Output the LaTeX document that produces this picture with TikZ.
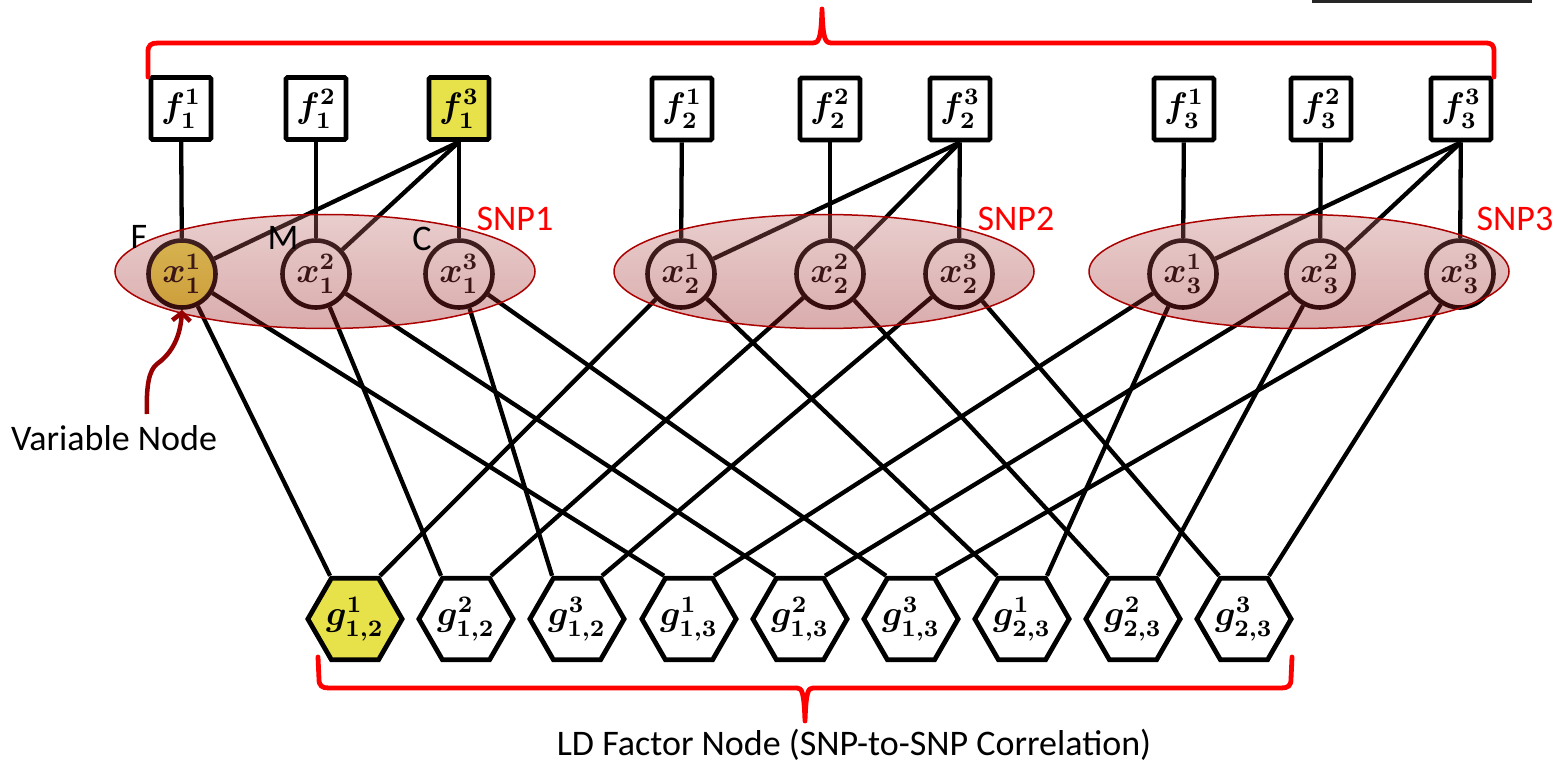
\documentclass[tikz,border=0pt]{standalone}
\usepackage{amsmath}
\usepackage{graphicx}
\usepackage[no-math]{fontspec}
\newfontfamily\labelfont{Carlito}
\usetikzlibrary{shapes.geometric,arrows.meta}
\pgfdeclarelayer{edges}
\pgfdeclarelayer{groups}
\pgfdeclarelayer{labels}
\pgfsetlayers{edges,main,groups,labels}

\definecolor{hilite}{RGB}{232,226,74}
\definecolor{bracered}{RGB}{255,0,0}
\definecolor{ellborder}{RGB}{170,0,0}
\definecolor{elltop}{RGB}{192,112,112}
\definecolor{ellbottom}{RGB}{149,18,18}
\definecolor{pointred}{RGB}{150,0,0}

% bold math symbol with stacked indices, enlarged
\newcommand{\sym}[3]{\scalebox{2.95}{\fontsize{12}{14}\selectfont$\boldsymbol{#1^{#2}_{#3}}$}}

\begin{document}
\begin{tikzpicture}[x=1pt,y=-1pt,
  fbox/.style={draw, line width=4.8pt, fill=white, minimum width=60pt,
    minimum height=62pt, inner sep=0pt, rounded corners=1.5pt},
  varnode/.style={circle, draw, line width=4.6pt, fill=white,
    minimum size=67pt, inner sep=0pt},
  ldnode/.style={regular polygon, regular polygon sides=6, draw,
    line width=4.8pt, fill=white, minimum size=82pt, inner sep=0pt},
  link/.style={line width=4.3pt, black},
  snpgroup/.style={ellipse, draw=ellborder, line width=1.5pt,
    top color=elltop, bottom color=ellbottom, fill opacity=0.35,
    draw opacity=1, minimum width=420pt, minimum height=114pt},
  lbl/.style={font=\labelfont\fontsize{36}{42}\selectfont, inner sep=0pt},
  snplbl/.style={lbl, text=bracered},
  bracket/.style={draw=bracered, line width=4.8pt, line cap=round,
    line join=round},
  pointer/.style={draw=pointred, line width=4.5pt,
    -{Straight Barb[length=8pt,width=18pt]}}
]
\useasboundingbox (0,0) rectangle (1556,762);

% trimmed rule at the top edge
\fill[black!85] (1312,0) rectangle (1532,3.5);

% prior factor nodes
\node[fbox] (f11) at (181,108.5) {\sym{f}{1}{1}};
\node[fbox] (f12) at (316,108.5) {\sym{f}{2}{1}};
\node[fbox, fill=hilite] (f13) at (459,108.5) {\sym{f}{3}{1}};
\node[fbox] (f21) at (682,109) {\sym{f}{1}{2}};
\node[fbox] (f22) at (830,109) {\sym{f}{2}{2}};
\node[fbox] (f23) at (960,109) {\sym{f}{3}{2}};
\node[fbox] (f31) at (1184,109) {\sym{f}{1}{3}};
\node[fbox] (f32) at (1321,109) {\sym{f}{2}{3}};
\node[fbox] (f33) at (1461,109) {\sym{f}{3}{3}};

% variable nodes
\node[varnode, fill=hilite] (x11) at (182,274) {\sym{x}{1}{1}};
\node[varnode] (x12) at (316,274) {\sym{x}{2}{1}};
\node[varnode] (x13) at (459,274) {\sym{x}{3}{1}};
\node[varnode] (x21) at (681,274) {\sym{x}{1}{2}};
\node[varnode] (x22) at (830,274) {\sym{x}{2}{2}};
\node[varnode] (x23) at (959,274) {\sym{x}{3}{2}};
\node[varnode] (x31) at (1183,274) {\sym{x}{1}{3}};
\node[varnode] (x32) at (1320,274) {\sym{x}{2}{3}};
\node[varnode] (x33) at (1460,274) {\sym{x}{3}{3}};

% LD factor nodes
\node[ldnode, fill=hilite] (g121) at (355,619) {\sym{g}{1}{1,2}};
\node[ldnode] (g122) at (466,619) {\sym{g}{2}{1,2}};
\node[ldnode] (g123) at (577,619) {\sym{g}{3}{1,2}};
\node[ldnode] (g131) at (689,619) {\sym{g}{1}{1,3}};
\node[ldnode] (g132) at (800,619) {\sym{g}{2}{1,3}};
\node[ldnode] (g133) at (911,619) {\sym{g}{3}{1,3}};
\node[ldnode] (g231) at (1022,619) {\sym{g}{1}{2,3}};
\node[ldnode] (g232) at (1133,619) {\sym{g}{2}{2,3}};
\node[ldnode] (g233) at (1244,619) {\sym{g}{3}{2,3}};

% connections, kept underneath the nodes
\begin{pgfonlayer}{edges}
  \foreach \s in {1,2,3} {
    \draw[link] (f\s1) -- (x\s1);
    \draw[link] (f\s2) -- (x\s2);
    \draw[link] (f\s3) -- (x\s3);
    \draw[link] (f\s3.south) -- (x\s1);
    \draw[link] (f\s3.south) -- (x\s2);
  }
  \foreach \i/\j in {1/2,1/3,2/3} {
    \foreach \k in {1,2,3} {
      \draw[link] (x\i\k) -- (g\i\j\k.120);
      \draw[link] (x\j\k) -- (g\i\j\k.60);
    }
  }
\end{pgfonlayer}

% translucent SNP groups over the variable nodes
\begin{pgfonlayer}{groups}
  \node[snpgroup] (snp1) at (325,271.5) {};
  \node[snpgroup] (snp2) at (824,271.5) {};
  \node[snpgroup] (snp3) at (1299,271.5) {};
\end{pgfonlayer}

\begin{pgfonlayer}{labels}
  \node[snplbl] (l1) at (515,219) {SNP1};
  \node[snplbl] (l2) at (1016,219) {SNP2};
  \node[snplbl] (l3) at (1515,219) {SNP3};
  \node[lbl] (lf) at (139,237) {F};
  \node[lbl] (lm) at (283,238) {M};
  \node[lbl] (lc) at (422,239) {C};

  % pointer to the highlighted variable node
  \node[lbl] (vname) at (114,438) {Variable Node};
  \coordinate (vtail) at (147,414);
  \draw[pointer] (vtail) .. controls (146,386) and (149,370) .. (157,364)
    .. controls (168,356) and (180,342) .. (x11.south);

  % brackets
  \draw[bracket] (148,77) -- (148,52) .. controls (148,45) and (151,43) .. (158,43)
    -- (812,43) .. controls (819,43) and (821,40) .. (822,9)
    .. controls (823,40) and (825,43) .. (832,43) -- (1485,43)
    .. controls (1492,43) and (1494,45) .. (1494,52) -- (1494,77);
  \draw[bracket] (318,657) -- (319,679) .. controls (319,686) and (322,688) .. (329,688)
    -- (797,688) .. controls (802,688) and (804,692) .. (805,721)
    .. controls (806,692) and (808,688) .. (813,688) -- (1281,688)
    .. controls (1288,688) and (1291,686) .. (1291,679) -- (1292,657);
  \node[lbl] (ldname) at (854,745) {LD Factor Node (SNP-to-SNP Correlation)};
\end{pgfonlayer}
\end{tikzpicture}
\end{document}
